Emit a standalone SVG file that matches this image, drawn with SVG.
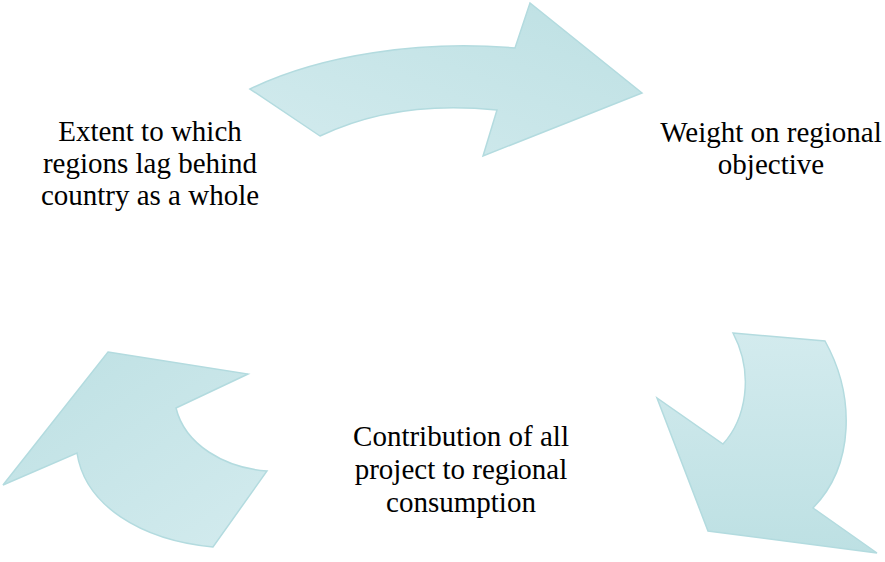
<svg xmlns="http://www.w3.org/2000/svg" width="885" height="562" viewBox="0 0 885 562">
<defs>
<linearGradient id="gTop" x1="0" y1="1" x2="1" y2="0"><stop offset="0" stop-color="#d3ebee"/><stop offset="1" stop-color="#bde0e3"/></linearGradient>
<linearGradient id="gRight" x1="0" y1="0" x2="0" y2="1"><stop offset="0" stop-color="#d3ebee"/><stop offset="1" stop-color="#bde0e3"/></linearGradient>
<linearGradient id="gLeft" x1="0" y1="0" x2="1" y2="1"><stop offset="0" stop-color="#bde0e3"/><stop offset="1" stop-color="#d3ebee"/></linearGradient>
<style>
.arr{stroke:#b3dbdf;stroke-width:1.5;stroke-linejoin:miter}
.lbl{font-family:"Liberation Serif","Times New Roman",serif;font-size:29px;fill:#000;text-anchor:middle}
</style>
</defs>
<g id="connectors">
<path id="arrowTop" class="arr" fill="url(#gTop)" d="M320,136 L250,89 C320,55 420,40 515,48 L530,3 L642,93 L483,156 L497,110 C430,103 370,112 320,136 Z"/>
<path id="arrowRight" class="arr" fill="url(#gRight)" d="M733,333 L825,341 C855,395 855,465 813,508 L877,553 L708,531 L657,398 L723,444 C745,420 755,375 733,333 Z"/>
<path id="arrowLeft" class="arr" fill="url(#gLeft)" d="M108,352 L248,374 L176,408 C185,445 225,468 267,471 L213,547 C140,540 85,505 77,453 L3,485 Z"/>
</g>
<g id="node-extent">
<text class="lbl" x="150" y="141">Extent to which</text>
<text class="lbl" x="150" y="173">regions lag behind</text>
<text class="lbl" x="150" y="205">country as a whole</text>
</g>
<g id="node-weight">
<text class="lbl" x="771" y="142">Weight on regional</text>
<text class="lbl" x="771" y="174">objective</text>
</g>
<g id="node-contribution">
<text class="lbl" x="461" y="446">Contribution of all</text>
<text class="lbl" x="461" y="479">project to regional</text>
<text class="lbl" x="461" y="512">consumption</text>
</g>
</svg>
